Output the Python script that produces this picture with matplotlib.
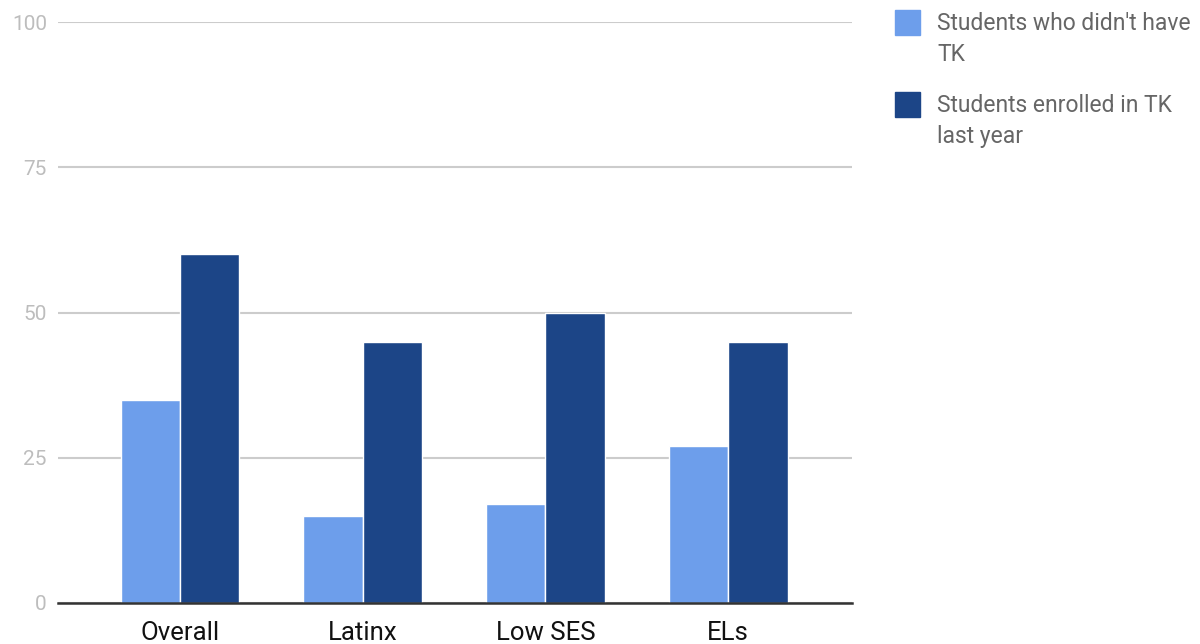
import matplotlib.pyplot as plt
from matplotlib.patches import Rectangle
import numpy as np

plt.rcParams['font.family'] = ['Roboto', 'DejaVu Sans']

categories = ["Overall", "Latinx", "Low SES", "ELs"]
no_tk = [35, 15, 17, 27]
tk_last_year = [60, 45, 50, 45]
labels = ["Students who didn't have\nTK", "Students enrolled in TK\nlast year"]
colors = ["#6d9eeb", "#1c4587"]

fig = plt.figure(figsize=(12, 6.44), dpi=100)
ax = fig.add_axes([0.0483, 0.0637, 0.6617, 0.9021])

x = np.arange(len(categories))
w = 0.325
ax.bar(x - w / 2, no_tk, w, color=colors[0], edgecolor="white", linewidth=1, zorder=3)
ax.bar(x + w / 2, tk_last_year, w, color=colors[1], edgecolor="white", linewidth=1, zorder=3)

ax.set_xlim(-0.668, 3.678)
ax.set_ylim(0, 100)
ax.set_yticks([0, 25, 50, 75, 100])
ax.set_xticks(x)
ax.set_xticklabels(categories, fontsize=18.5, color="#111111")
ax.tick_params(axis='y', labelsize=15, labelcolor="#bdbdbd", length=0, pad=8)
ax.tick_params(axis='x', length=0, pad=13)

ax.grid(axis='y', color="#cccccc", linewidth=1.5, zorder=0)
for s in ["top", "right", "left"]:
    ax.spines[s].set_visible(False)
ax.spines["bottom"].set_color("#333333")
ax.spines["bottom"].set_linewidth(1.8)
ax.spines["bottom"].set_zorder(4)

# 图例：手动画方块和文字
W, H = 1200, 644
for i, (lab, c) in enumerate(zip(labels, colors)):
    top = 10 + i * 82
    fig.patches.append(Rectangle((895 / W, 1 - (top + 25) / H), 25 / W, 25 / H,
                                 transform=fig.transFigure, color=c))
    fig.text(937 / W, 1 - (top + 2) / H, lab, fontsize=16.5, color="#666666",
             va="top", ha="left", linespacing=1.45)

plt.savefig("out.png", dpi=100)
